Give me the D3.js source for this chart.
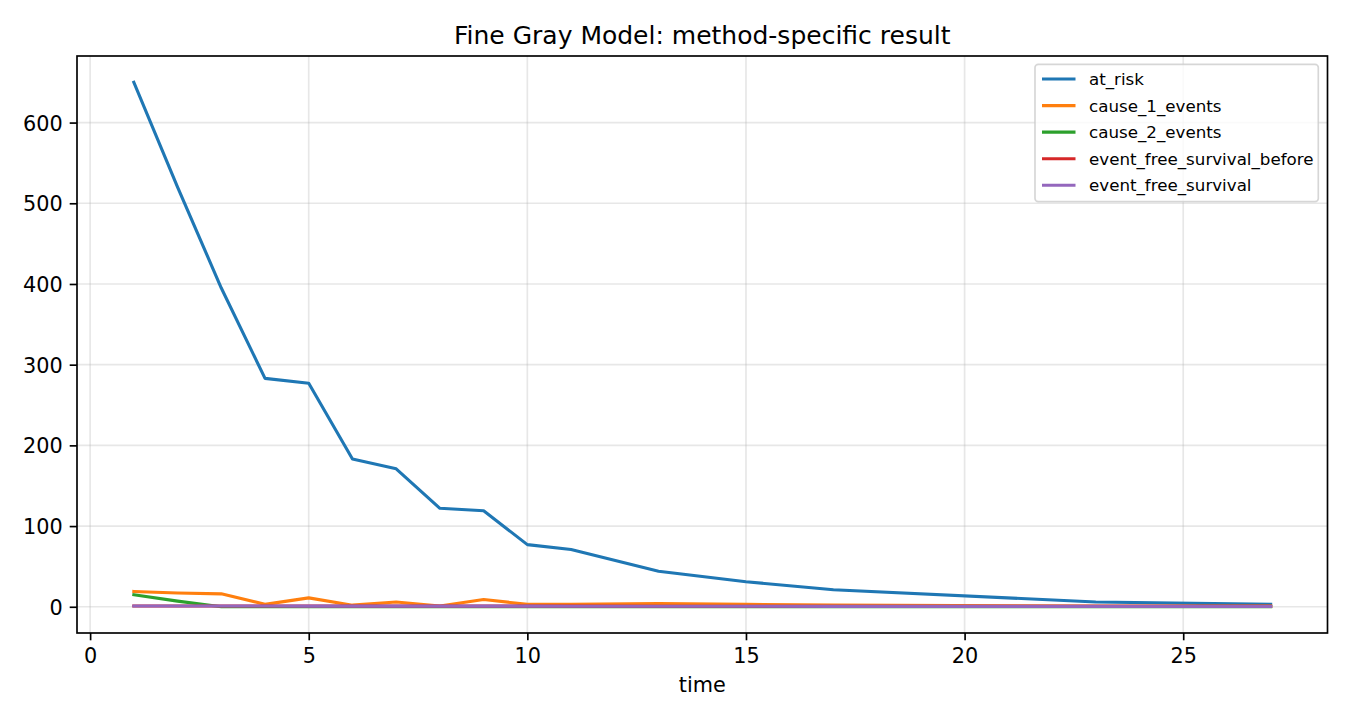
<!DOCTYPE html>
<html>
<head>
<meta charset="utf-8">
<script src="https://cdn.jsdelivr.net/npm/d3@7"></script>
<style>
  html, body { margin: 0; padding: 0; background: #fff; }
  svg { display: block; font-family: "DejaVu Sans", sans-serif; }
</style>
</head>
<body>
<svg id="chart" width="1350" height="720"></svg>
<script>
// ---- data ----
const times = [1, 2, 3, 4, 5, 6, 7, 8, 9, 10, 11, 13, 15, 17, 23, 27];
const atRisk = [650, 520, 395, 283, 277, 183, 171, 122, 119, 77, 71, 44, 31, 21, 6, 3];
const cause1Events = [19, 17, 16, 3, 11, 2, 6, 1, 9, 3, 3, 4, 3, 2, 1, 1];
const cause2Events = [15, 7, 0, 0, 0, 0, 0, 0, 0, 0, 0, 0, 0, 0, 0, 0];
const eventFreeSurvivalBefore = [1.0, 0.95, 0.92, 0.9, 0.89, 0.86, 0.85, 0.83, 0.82, 0.78, 0.75, 0.71, 0.66, 0.6, 0.54, 0.45];
const eventFreeSurvival = [0.95, 0.92, 0.9, 0.89, 0.86, 0.85, 0.83, 0.82, 0.78, 0.75, 0.71, 0.66, 0.6, 0.54, 0.45, 0.3];
const seriesNames = ["at_risk", "cause_1_events", "cause_2_events", "event_free_survival_before", "event_free_survival"];
const seriesColors = ["#1f77b4", "#ff7f0e", "#2ca02c", "#d62728", "#9467bd"];
const xTicks = [0, 5, 10, 15, 20, 25];
const yTicks = [0, 100, 200, 300, 400, 500, 600];
const titleText = "Fine Gray Model: method-specific result";
const xLabel = "time";

const seriesValues = [atRisk, cause1Events, cause2Events, eventFreeSurvivalBefore, eventFreeSurvival];

// ---- layout ----
const L = 77, R = 1327.5, T = 56, B = 633;
const svg = d3.select("#chart");

const x = d3.scaleLinear().domain([-0.3, 28.3]).range([L, R]);
const y = d3.scaleLinear().domain([-32.5, 682.5]).range([B, T]);

// grid
const grid = svg.append("g");
grid.selectAll("line.vx").data(xTicks).enter().append("line")
  .attr("x1", d => x(d)).attr("x2", d => x(d)).attr("y1", T).attr("y2", B)
  .attr("stroke", "#b0b0b0").attr("stroke-opacity", 0.3).attr("stroke-width", 1.67);
grid.selectAll("line.hy").data(yTicks).enter().append("line")
  .attr("x1", L).attr("x2", R).attr("y1", d => y(d)).attr("y2", d => y(d))
  .attr("stroke", "#b0b0b0").attr("stroke-opacity", 0.3).attr("stroke-width", 1.67);

// lines
const plot = svg.append("g");
seriesValues.forEach((vals, i) => {
  const line = d3.line().x((d, j) => x(times[j])).y(d => y(d));
  plot.append("path").datum(vals)
    .attr("d", line)
    .attr("fill", "none")
    .attr("stroke", seriesColors[i])
    .attr("stroke-width", 3.1)
    .attr("stroke-linejoin", "round")
    .attr("stroke-linecap", "square");
});

// axes
const xAxis = d3.axisBottom(x).tickValues(xTicks).tickSize(7.3).tickPadding(7).tickFormat(d3.format("d"));
const yAxis = d3.axisLeft(y).tickValues(yTicks).tickSize(7.3).tickPadding(7).tickFormat(d3.format("d"));

const gx = svg.append("g").attr("transform", `translate(0,${B})`).call(xAxis);
const gy = svg.append("g").attr("transform", `translate(${L},0)`).call(yAxis);
[gx, gy].forEach(g => {
  g.select(".domain").remove();
  g.selectAll(".tick line").attr("stroke", "#000").attr("stroke-width", 1.67);
  g.selectAll(".tick text").attr("fill", "#000").attr("font-size", 20.8)
    .attr("font-family", "DejaVu Sans, sans-serif");
});
gx.selectAll(".tick text").attr("dy", null).attr("y", 29.7).attr("dominant-baseline", "auto");
gy.selectAll(".tick text").attr("dy", null).attr("y", 7.6).attr("dominant-baseline", "auto");

// spines
svg.append("rect").attr("x", L).attr("y", T).attr("width", R - L).attr("height", B - T)
  .attr("fill", "none").attr("stroke", "#000").attr("stroke-width", 1.67);

// title & label
svg.append("text").attr("x", (L + R) / 2).attr("y", 43.5).attr("text-anchor", "middle")
  .attr("font-size", 25).attr("fill", "#000").text(titleText);
svg.append("text").attr("x", (L + R) / 2).attr("y", 692.3).attr("text-anchor", "middle")
  .attr("font-size", 20.8).attr("fill", "#000").text(xLabel);

// legend
const lg = svg.append("g");
lg.append("rect").attr("x", 1035).attr("y", 64.3).attr("width", 283.3).attr("height", 137.4)
  .attr("rx", 3.3).attr("ry", 3.3)
  .attr("fill", "#fff").attr("fill-opacity", 0.8)
  .attr("stroke", "#cccccc").attr("stroke-opacity", 0.8).attr("stroke-width", 1.67);
const rowY = d3.scaleLinear().domain([0, 4]).range([79, 185.3]);
seriesNames.forEach((name, i) => {
  lg.append("line").attr("x1", 1042).attr("x2", 1075.5).attr("y1", rowY(i)).attr("y2", rowY(i))
    .attr("stroke", seriesColors[i]).attr("stroke-width", 3.1);
  lg.append("text").attr("x", 1089).attr("y", rowY(i) + 6).attr("font-size", 16.7)
    .attr("fill", "#000").text(name);
});
</script>
</body>
</html>
